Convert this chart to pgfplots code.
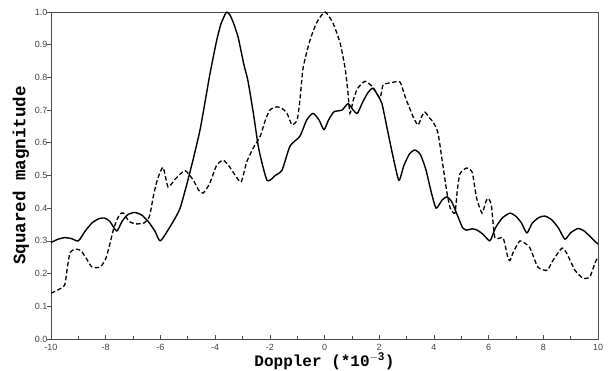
\documentclass[border=0pt]{standalone}
\usepackage{fontspec}
\setmainfont{Liberation Sans}
\newfontfamily\courb{Liberation Mono}[BoldFont={Liberation Mono Bold}]
\usepackage{pgfplots}
\pgfplotsset{compat=1.18}
\pgfplotstableread{
x y
-10 0.295
-9.75 0.305
-9.5 0.31
-9.25 0.307
-9.0 0.30
-8.75 0.33
-8.5 0.355
-8.25 0.368
-8.05 0.37
-7.85 0.36
-7.6 0.33
-7.4 0.36
-7.2 0.38
-6.95 0.387
-6.7 0.38
-6.45 0.36
-6.2 0.33
-6.0 0.30
-5.6 0.35
-5.28 0.40
-4.92 0.51
-4.55 0.64
-4.19 0.81
-3.95 0.91
-3.8 0.96
-3.65 0.99
-3.57 1.0
-3.45 0.99
-3.3 0.96
-3.15 0.92
-2.95 0.84
-2.8 0.79
-2.6 0.69
-2.4 0.58
-2.1 0.485
-1.8 0.50
-1.55 0.517
-1.26 0.59
-0.9 0.62
-0.65 0.67
-0.42 0.69
-0.2 0.67
-0.02 0.64
0.15 0.67
0.35 0.695
0.64 0.70
0.86 0.72
1.05 0.70
1.2 0.69
1.4 0.725
1.6 0.755
1.77 0.767
1.95 0.745
2.1 0.72
2.3 0.64
2.5 0.56
2.72 0.485
2.9 0.53
3.1 0.565
3.3 0.578
3.5 0.565
3.7 0.52
3.9 0.45
4.08 0.40
4.3 0.425
4.48 0.435
4.65 0.42
4.85 0.38
5.05 0.34
5.2 0.333
5.4 0.337
5.58 0.333
5.8 0.32
6.05 0.30
6.25 0.34
6.5 0.37
6.78 0.385
7.0 0.375
7.2 0.355
7.4 0.324
7.6 0.355
7.85 0.372
8.06 0.376
8.3 0.365
8.55 0.34
8.79 0.305
9.0 0.325
9.27 0.338
9.5 0.33
9.75 0.31
10 0.29
}\solid
\pgfplotstableread{
x y
-10 0.14
-9.75 0.15
-9.5 0.165
-9.4 0.22
-9.3 0.265
-9.1 0.275
-8.9 0.27
-8.7 0.245
-8.5 0.22
-8.2 0.22
-8.0 0.245
-7.85 0.29
-7.7 0.34
-7.5 0.38
-7.35 0.385
-7.15 0.36
-6.9 0.352
-6.6 0.355
-6.4 0.375
-6.25 0.44
-6.1 0.49
-5.9 0.525
-5.72 0.465
-5.45 0.49
-5.1 0.515
-4.8 0.486
-4.6 0.455
-4.44 0.446
-4.2 0.475
-3.95 0.53
-3.71 0.547
-3.5 0.53
-3.3 0.505
-3.05 0.48
-2.85 0.54
-2.6 0.585
-2.35 0.62
-2.18 0.665
-2.0 0.70
-1.75 0.71
-1.55 0.705
-1.37 0.69
-1.19 0.655
-1.0 0.67
-0.9 0.73
-0.78 0.83
-0.53 0.914
-0.27 0.97
0.02 1.0
0.31 0.966
0.57 0.905
0.75 0.83
0.85 0.76
0.93 0.69
1.05 0.73
1.2 0.765
1.48 0.788
1.77 0.77
2.03 0.737
2.14 0.777
2.4 0.783
2.76 0.786
2.95 0.74
3.24 0.68
3.42 0.654
3.55 0.68
3.67 0.694
3.85 0.675
3.97 0.664
4.15 0.63
4.3 0.547
4.48 0.446
4.6 0.40
4.77 0.385
4.85 0.45
4.95 0.505
5.2 0.523
5.4 0.51
5.5 0.46
5.58 0.425
5.76 0.385
5.9 0.42
5.98 0.43
6.1 0.41
6.23 0.31
6.53 0.309
6.7 0.25
6.78 0.24
6.9 0.265
7.15 0.30
7.5 0.28
7.8 0.22
8.14 0.21
8.35 0.24
8.68 0.278
8.85 0.263
9.16 0.21
9.45 0.186
9.7 0.19
9.9 0.235
10 0.25
}\dashed
\begin{document}
\begin{tikzpicture}
\useasboundingbox (-51pt,-32pt) rectangle (558pt,339pt);
\begin{axis}[
  scale only axis,
  width=547pt, height=327pt,
  xmin=-10, xmax=10, ymin=0, ymax=1,
  axis line style={black!70, line width=0.8pt},
  xtick={-10,-8,...,10},
  minor xtick={-9,-7,...,9},
  ytick={0,0.1,...,1.0},
  xtick pos=left, ytick pos=left,
  xtick style={black!70, line width=0.6pt},
  ytick style={black!70, line width=0.6pt, xshift=-4pt},
  major tick length=4pt, minor tick length=3pt,
  x tick label style={font=\fontsize{9}{10}\selectfont, text=black!75, yshift=-2pt},
  y tick label style={font=\fontsize{9}{10}\selectfont, text=black!75, /pgf/number format/.cd, fixed, fixed zerofill, precision=1},
  /pgf/number format/assume math mode=true,
  xlabel={\courb\bfseries Doppler (*10$^{\mathbf{-3}}$)},
  ylabel={\courb\bfseries Squared magnitude},
  xlabel style={font=\fontsize{16}{17}\selectfont, yshift=5pt},
  ylabel style={font=\fontsize{17.5}{18}\selectfont, yshift=-1pt},
]
\addplot[black, line width=1.4pt, line join=round, smooth, tension=0.35] table {\solid};
\addplot[black, line width=1.3pt, dash pattern=on 4.5pt off 2.5pt, smooth, tension=0.35] table {\dashed};
\end{axis}
\end{tikzpicture}
\end{document}
